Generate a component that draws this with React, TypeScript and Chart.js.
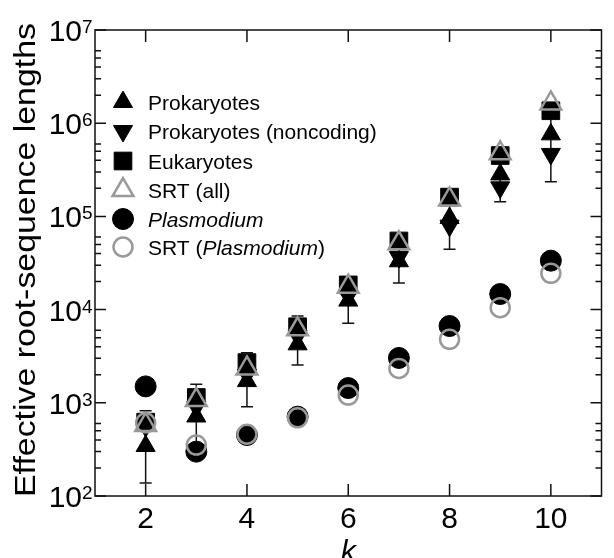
import React, { useEffect, useRef } from "react";
import { Chart, registerables } from "chart.js";
import { drawPoint } from "chart.js/helpers";

Chart.register(...registerables);

const kValues = [2, 3, 4, 5, 6, 7, 8, 9, 10];
const prokaryotes = [344, 713, 1710, 4240, 12500, 33000, 96000, 282000, 759000];
const prokNoncoding = [560, 900, 2000, 5200, 14000, 36600, 79500, 205000, 468000];
const eukaryotes = [620, 1140, 2700, 6550, 18400, 54500, 161000, 450000, 1360000];
const srtAll = [578, 1070, 2340, 6140, 17600, 51400, 152000, 475000, 1630000];
const plasmodium = [1500, 299, 451, 710, 1440, 3030, 6670, 14700, 33500];
const srtPlasmodium = [610, 352, 460, 690, 1210, 2340, 4800, 10500, 24500];
const errLow = [138, 350, 908, 2550, 7130, 19300, 44400, 144000, 235000];
const errHigh = [822, 1580, 3450, 8530, 20000, 55000, 160000, 440000, 1300000];

const xTicks = [2, 4, 6, 8, 10];
const yDecades = [2, 3, 4, 5, 6, 7];
const minorMultipliers = [2, 3, 4, 5, 6];

const GRAY = "#999999";
const FONT = "'Liberation Sans', Arial, Helvetica, sans-serif";

const pts = (vals: number[]) => vals.map((v, i) => ({ x: kValues[i], y: v }));

const legendItems = [
  { label: [{ t: "Prokaryotes", i: false }], style: { pointStyle: "triangle", rotation: 0, radius: 11, borderWidth: 1 }, fill: "#000", stroke: "#000" },
  { label: [{ t: "Prokaryotes (noncoding)", i: false }], style: { pointStyle: "triangle", rotation: 180, radius: 11, borderWidth: 1 }, fill: "#000", stroke: "#000" },
  { label: [{ t: "Eukaryotes", i: false }], style: { pointStyle: "rect", rotation: 0, radius: 12.5, borderWidth: 1 }, fill: "#000", stroke: "#000" },
  { label: [{ t: "SRT (all)", i: false }], style: { pointStyle: "triangle", rotation: 0, radius: 12, borderWidth: 2.5 }, fill: "rgba(0,0,0,0)", stroke: GRAY },
  { label: [{ t: "Plasmodium", i: true }], style: { pointStyle: "circle", rotation: 0, radius: 10.5, borderWidth: 1 }, fill: "#000", stroke: "#000" },
  { label: [{ t: "SRT (", i: false }, { t: "Plasmodium", i: true }, { t: ")", i: false }], style: { pointStyle: "circle", rotation: 0, radius: 9.5, borderWidth: 2.5 }, fill: "rgba(0,0,0,0)", stroke: GRAY },
];
const legendRows = [102, 131, 161, 190, 219, 247];

const errorBarPlugin = {
  id: "errorBars",
  beforeDatasetsDraw(chart: any) {
    const ctx = chart.ctx;
    const xs = chart.scales.x;
    const ys = chart.scales.y;
    ctx.save();
    ctx.strokeStyle = "#111";
    ctx.lineWidth = 1.5;
    kValues.forEach((k, i) => {
      const x = xs.getPixelForValue(k);
      const y1 = ys.getPixelForValue(errLow[i]);
      const y2 = ys.getPixelForValue(errHigh[i]);
      ctx.beginPath();
      ctx.moveTo(x, y1);
      ctx.lineTo(x, y2);
      ctx.moveTo(x - 6, y1);
      ctx.lineTo(x + 6, y1);
      ctx.moveTo(x - 6, y2);
      ctx.lineTo(x + 6, y2);
      ctx.stroke();
    });
    ctx.restore();
  },
};

const framePlugin = {
  id: "frame",
  afterDraw(chart: any) {
    const ctx = chart.ctx;
    const { left, right, top, bottom } = chart.chartArea;
    const xs = chart.scales.x;
    const ys = chart.scales.y;
    ctx.save();
    ctx.strokeStyle = "#111";
    ctx.lineWidth = 1.5;
    ctx.strokeRect(left, top, right - left, bottom - top);
    ctx.beginPath();
    xTicks.forEach((k) => {
      const x = xs.getPixelForValue(k);
      ctx.moveTo(x, bottom);
      ctx.lineTo(x, bottom - 12);
      ctx.moveTo(x, top);
      ctx.lineTo(x, top + 12);
    });
    yDecades.forEach((e) => {
      const y = ys.getPixelForValue(Math.pow(10, e));
      ctx.moveTo(left, y);
      ctx.lineTo(left + 11, y);
      ctx.moveTo(right, y);
      ctx.lineTo(right - 11, y);
      if (e < 7) {
        minorMultipliers.forEach((m) => {
          const ym = ys.getPixelForValue(m * Math.pow(10, e));
          ctx.moveTo(left, ym);
          ctx.lineTo(left + 6, ym);
          ctx.moveTo(right, ym);
          ctx.lineTo(right - 6, ym);
        });
      }
    });
    ctx.stroke();

    // tick labels
    ctx.fillStyle = "#000";
    ctx.textBaseline = "alphabetic";
    yDecades.forEach((e) => {
      const y = ys.getPixelForValue(Math.pow(10, e));
      ctx.font = `30px ${FONT}`;
      ctx.textAlign = "right";
      ctx.fillText("10", 82, y + 11);
      ctx.font = `19px ${FONT}`;
      ctx.textAlign = "left";
      ctx.fillText(String(e), 82, y + 3);
    });
    ctx.font = `30px ${FONT}`;
    ctx.textAlign = "center";
    xTicks.forEach((k) => {
      ctx.fillText(String(k), xs.getPixelForValue(k), 528);
    });
    // x title
    ctx.font = `italic 30px ${FONT}`;
    ctx.fillText("k", (left + right) / 2, 561);
    // y title
    ctx.save();
    ctx.translate(35, 260);
    ctx.rotate(-Math.PI / 2);
    ctx.font = `30px ${FONT}`;
    const title = "Effective root-sequence lengths";
    const w = ctx.measureText(title).width;
    ctx.scale(474 / w, 1);
    ctx.textAlign = "center";
    ctx.fillText(title, 0, 0);
    ctx.restore();

    // legend
    legendItems.forEach((item, idx) => {
      const yc = legendRows[idx];
      ctx.save();
      ctx.fillStyle = item.fill;
      ctx.strokeStyle = item.stroke;
      ctx.lineWidth = item.style.borderWidth;
      drawPoint(ctx, item.style as any, 123, yc);
      ctx.restore();
      let x = 148;
      ctx.textAlign = "left";
      ctx.fillStyle = "#000";
      item.label.forEach((part) => {
        ctx.font = `${part.i ? "italic " : ""}21px ${FONT}`;
        ctx.fillText(part.t, x, yc + 7.5);
        x += ctx.measureText(part.t).width;
      });
    });
    ctx.restore();
  },
};

export default function App() {
  const canvasRef = useRef<HTMLCanvasElement | null>(null);
  useEffect(() => {
    if (!canvasRef.current) return;
    const filled = (style: string, radius: number, rotation = 0) => ({
      pointStyle: style,
      pointRadius: radius,
      pointRotation: rotation,
      backgroundColor: "#000",
      borderColor: "#000",
      borderWidth: 1,
    });
    const open = (style: string, radius: number) => ({
      pointStyle: style,
      pointRadius: radius,
      backgroundColor: "rgba(0,0,0,0)",
      borderColor: GRAY,
      borderWidth: 2.5,
    });
    const chart = new Chart(canvasRef.current, {
      type: "scatter",
      data: {
        datasets: [
          { label: "SRT (Plasmodium)", data: pts(srtPlasmodium), ...open("circle", 9.5) },
          { label: "SRT (all)", data: pts(srtAll), ...open("triangle", 12) },
          { label: "Eukaryotes", data: pts(eukaryotes), ...filled("rect", 12.5) },
          { label: "Prokaryotes", data: pts(prokaryotes), ...filled("triangle", 11) },
          { label: "Prokaryotes (noncoding)", data: pts(prokNoncoding), ...filled("triangle", 11, 180) },
          { label: "Plasmodium", data: pts(plasmodium), ...filled("circle", 10.5) },
        ] as any,
      },
      options: {
        animation: false,
        responsive: false,
        devicePixelRatio: 1,
        layout: { padding: { left: 95, top: 30, right: 1, bottom: 62 } },
        plugins: { legend: { display: false }, tooltip: { enabled: false } },
        scales: {
          x: { type: "linear", min: 1, max: 11, display: false },
          y: { type: "logarithmic", min: 100, max: 10000000, display: false },
        },
      } as any,
      plugins: [errorBarPlugin, framePlugin],
    });
    return () => chart.destroy();
  }, []);
  return (
    <div style={{ position: "absolute", left: 0, top: 0, width: 614, height: 558, overflow: "hidden", background: "#fff" }}>
      <canvas ref={canvasRef} width={616} height={558} style={{ display: "block" }} />
    </div>
  );
}
